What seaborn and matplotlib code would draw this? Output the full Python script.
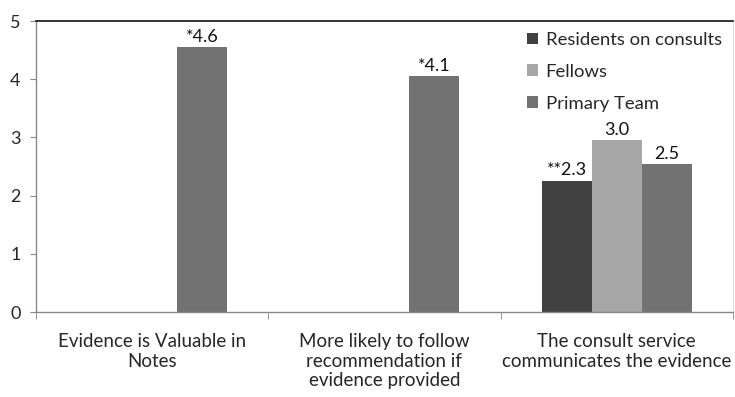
import numpy as np
import pandas as pd
import matplotlib
matplotlib.use("Agg")
import matplotlib.pyplot as plt
from matplotlib.ticker import FixedLocator
import seaborn as sns

categories = [
    "Evidence is Valuable in\nNotes",
    "More likely to follow\nrecommendation if\nevidence provided",
    "The consult service\ncommunicates the evidence",
]
series = ["Residents on consults", "Fellows", "Primary Team"]
residents = [np.nan, np.nan, 2.26]
fellows = [np.nan, np.nan, 2.96]
primary = [4.56, 4.05, 2.54]
bar_labels = {
    "Residents on consults": ["", "", "**2.3"],
    "Fellows": ["", "", "3.0"],
    "Primary Team": ["*4.6", "*4.1", "2.5"],
}
colors = ["#414141", "#a6a6a6", "#727272"]

df = pd.DataFrame({
    "category": categories * 3,
    "group": [s for s in series for _ in categories],
    "value": residents + fellows + primary,
})

sns.set_style("white")
plt.rcParams["font.family"] = ["Lato", "DejaVu Sans"]

fig = plt.figure(figsize=(7.35, 3.97), dpi=100)
ax = fig.add_axes([0.049, 0.214, 0.948, 0.733])

sns.barplot(data=df, x="category", y="value", hue="group", order=categories,
            hue_order=series, palette=colors, width=0.645, saturation=1,
            errorbar=None, ax=ax, linewidth=0)

# value labels above each drawn bar
for cont, name in zip(ax.containers, series):
    for bar in cont:
        if bar is None or np.isnan(bar.get_height()):
            continue
        xc = bar.get_x() + bar.get_width() / 2
        i = int(round(xc))
        ax.annotate(bar_labels[name][i], (xc, bar.get_height()), xytext=(0, 1.5),
                    textcoords="offset points", ha="center", va="bottom",
                    fontsize=13, color="#111111")

ax.set_ylim(0, 5)
ax.set_xlim(-0.5, 2.5)
ax.set_yticks(range(6))
ax.tick_params(axis="y", labelsize=13, length=4, direction="out", color="#888888", pad=7, left=True)
ax.tick_params(axis="x", labelsize=13.5, length=0, pad=15)
for lbl in ax.get_xticklabels():
    lbl.set_linespacing(1.2)
ax.xaxis.set_minor_locator(FixedLocator([-0.5, 0.5, 1.5, 2.5]))
ax.tick_params(axis="x", which="minor", length=5, color="#888888", direction="out", bottom=True)
ax.set_xlabel("")
ax.set_ylabel("")

for side in ["left", "bottom"]:
    ax.spines[side].set_color("#888888")
    ax.spines[side].set_linewidth(1)
ax.spines["top"].set_color("#111111")
ax.spines["top"].set_linewidth(1.2)
ax.spines["right"].set_color("#dddddd")

leg = ax.legend(loc="upper right", bbox_to_anchor=(1.0, 1.0), frameon=False,
                fontsize=13.3, handlelength=0.6, handleheight=0.6,
                handletextpad=0.4, labelspacing=0.85, borderaxespad=0.2)

fig.savefig("out.png", dpi=100)
